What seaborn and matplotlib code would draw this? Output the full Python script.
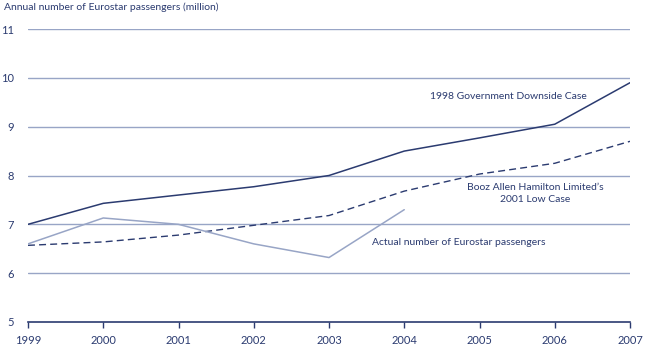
import matplotlib
matplotlib.use("Agg")
import matplotlib.pyplot as plt
import seaborn as sns
import pandas as pd

years = [1999, 2000, 2001, 2002, 2003, 2004, 2005, 2006, 2007]
downside_1998 = [7.0, 7.43, 7.6, 7.77, 8.0, 8.5, 8.77, 9.05, 9.9]
booz_low_2001 = [6.57, 6.64, 6.78, 6.98, 7.18, 7.68, 8.03, 8.25, 8.7]
actual_years = [1999, 2000, 2001, 2002, 2003, 2004]
actual = [6.6, 7.13, 7.0, 6.6, 6.32, 7.3]

yticks = [5, 6, 7, 8, 9, 10, 11]

navy = "#2b3b70"
light = "#98a5c6"

sns.set_theme(style="white")
plt.rcParams["font.family"] = ["Lato", "DejaVu Sans"]

fig = plt.figure(figsize=(6.46, 3.53), dpi=100)
ax = fig.add_axes([28 / 646, 1 - 322 / 353, (630 - 28) / 646, (322 - 29) / 353])

for y in yticks[1:]:
    ax.axhline(y, color=light, lw=1, zorder=0)

df_down = pd.DataFrame({"year": years, "value": downside_1998})
df_booz = pd.DataFrame({"year": years, "value": booz_low_2001})
df_act = pd.DataFrame({"year": actual_years, "value": actual})

sns.lineplot(data=df_down, x="year", y="value", ax=ax, color=navy, lw=1.1)
sns.lineplot(data=df_booz, x="year", y="value", ax=ax, color=navy, lw=1.0,
             linestyle=(0, (5, 3)))
sns.lineplot(data=df_act, x="year", y="value", ax=ax, color=light, lw=1.1)

ax.set_xlim(1999, 2007)
ax.set_ylim(5, 11)
ax.set_xticks(years)
ax.set_xticklabels([str(y) for y in years])
ax.set_yticks(yticks)
ax.set_xlabel("")
ax.set_ylabel("")

for side in ["top", "right", "left"]:
    ax.spines[side].set_visible(False)
ax.spines["bottom"].set_color(navy)
ax.spines["bottom"].set_linewidth(1.2)
ax.tick_params(axis="x", bottom=True, length=4, width=1, color=navy,
               labelsize=8, labelcolor=navy, pad=5)
ax.tick_params(axis="y", left=False, labelsize=8, labelcolor=navy, pad=4)

fig.text(4 / 646, 1 - 7 / 353, "Annual number of Eurostar passengers (million)",
         fontsize=7.5, color=navy, va="center", ha="left")

ax.text(2005.38, 9.61, "1998 Government Downside Case", fontsize=7.5, color=navy,
        ha="center", va="center")
ax.text(2005.74, 7.63, "Booz Allen Hamilton Limited’s\n2001 Low Case", fontsize=7.5,
        color=navy, ha="center", va="center", linespacing=1.5)
ax.text(2003.57, 6.63, "Actual number of Eurostar passengers", fontsize=7.5,
        color=navy, ha="left", va="center")

fig.savefig("out.png", dpi=100)
